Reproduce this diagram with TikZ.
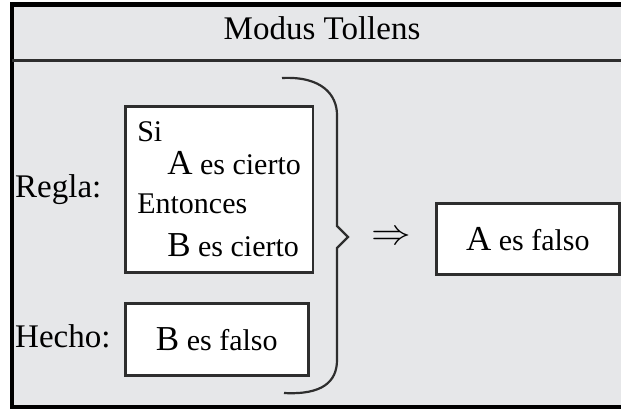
\documentclass[tikz,border=0pt]{standalone}
\usepackage{fontspec}
\setmainfont{Liberation Serif}
\usepackage{tikz}
\usetikzlibrary{positioning}
\definecolor{fondo}{HTML}{E6E7E9}
\definecolor{trazo}{HTML}{2E2E2E}
\newcommand{\mayus}[1]{{\fontsize{35}{37}\selectfont #1}}

\begin{document}
\begin{tikzpicture}[%
  x=1pt, y=-1pt,
  caja/.style={draw=trazo, line width=2.6pt, fill=white, inner sep=0pt},
  texto/.style={font=\fontsize{30}{37}\selectfont},
  rotulo/.style={font=\fontsize{33}{37}\selectfont, anchor=base west, inner sep=0pt}]
  \useasboundingbox (0,0) rectangle (621,410);
  \clip (0,0) rectangle (621,410);
  \fill[fondo] (12,5) rectangle (640,407);
  \draw[line width=4.5pt] (640,4.5) -- (12,4.5) -- (12,407) -- (640,407);
  \draw[line width=3pt, trazo] (12,60.5) -- (640,60.5);
  \node[font=\fontsize{33}{35}\selectfont, anchor=base, inner sep=0pt] (titulo) at (322,39) {Modus Tollens};

  \node[caja, texto, anchor=north west, minimum width=186pt, minimum height=166pt,
        inner xsep=12pt, align=left] (regla) at (124,105)
        {Si\\[-4pt] \hspace*{30pt}\mayus{A} es cierto\\[2pt] Entonces\\[6pt] \hspace*{30pt}\mayus{B} es cierto};
  \node[caja, texto, anchor=north west, minimum width=183pt, minimum height=72pt] (hecho)
        at (124,302) {\mayus{B} es falso};
  \node[rotulo] (lregla) at (15,197) {Regla:};
  \node[rotulo] (lhecho) at (15,347) {Hecho:};

  \draw[line width=2.2pt, trazo] (282,78) .. controls (322,76) and (337,95) .. (337,115)
    -- (337,226) -- (348,237) -- (337,248) -- (337,360)
    .. controls (337,382) and (322,395) .. (284,393);

  \node[scale=3.6, xscale=1.1] (implica) at (391,238) {$\Rightarrow$};
  \node[caja, texto, anchor=north west, minimum width=183pt, minimum height=71pt] (conclusion)
        at (435,202) {\mayus{A} es falso};
\end{tikzpicture}
\end{document}
